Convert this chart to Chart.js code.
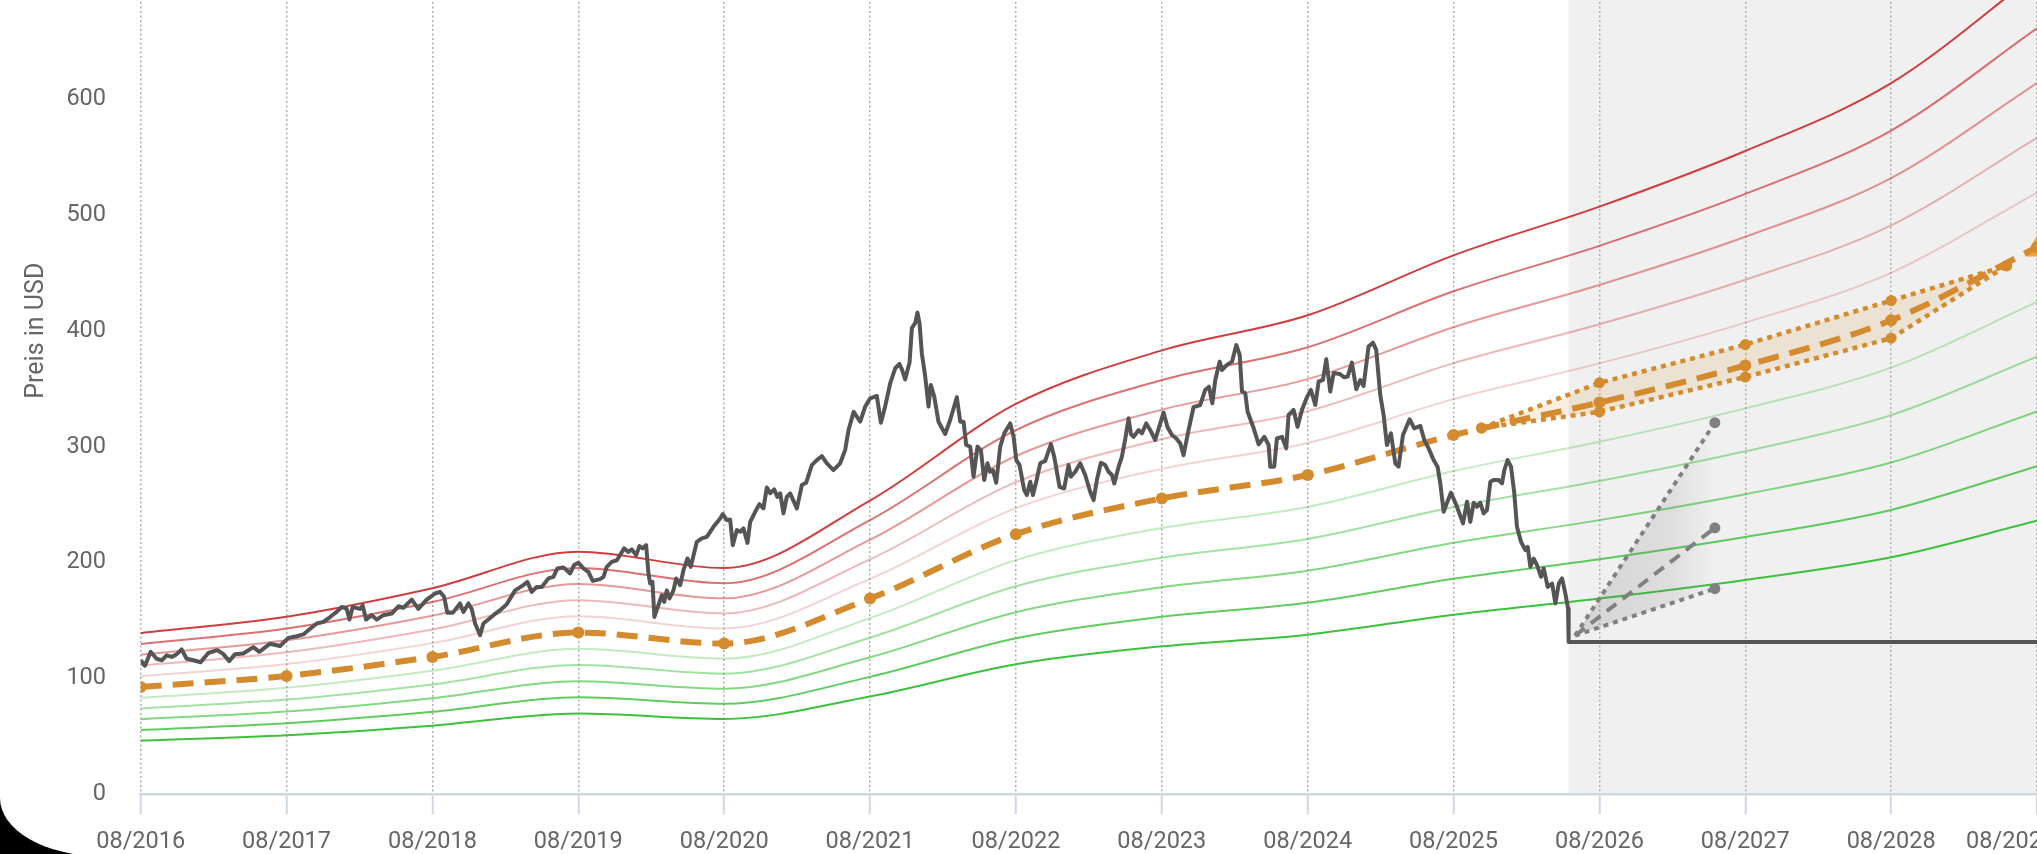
<!DOCTYPE html>
<html lang="de">
<head>
<meta charset="utf-8">
<title>Fair Value Chart</title>
<script src="https://cdn.jsdelivr.net/npm/chart.js@4.4.1/dist/chart.umd.min.js"></script>
<style>
  html, body { margin: 0; padding: 0; background: #000; overflow: hidden; }
  #frame { position: relative; width: 2037px; height: 856px; background: #fff; overflow: hidden; border-bottom-left-radius: 100px 58px; }
  #chartBox { position: absolute; left: 0; top: -133px; width: 2037px; height: 989px; }
</style>
</head>
<body>
<div id="frame"><div id="chartBox"><canvas id="valuationChart"></canvas></div></div>
<script>
// x values are months since 08/2016
const tickLabels = ["08/2016", "08/2017", "08/2018", "08/2019", "08/2020", "08/2021", "08/2022",
  "08/2023", "08/2024", "08/2025", "08/2026", "08/2027", "08/2028", "08/2029"];

const fairValueMonths = [0, 12, 24, 36, 48, 60, 72, 84, 96, 108, 120, 132, 144, 156];
const fairValue = [92.7, 102.2, 118.6, 139.6, 130.1, 169, 224.5, 255.3, 275.5, 310, 338, 370, 409, 472];

// valuation bands around the fair value
const bandPlus50 = [139.1, 153.3, 177.9, 209.4, 195.2, 253.5, 336.8, 383.0, 413.3, 465, 507, 555, 613.5, 708];
const bandPlus40 = [129.8, 143.1, 166.0, 195.4, 182.1, 236.6, 314.3, 357.4, 385.7, 434, 473.2, 518, 572.6, 660.8];
const bandPlus30 = [120.5, 132.9, 154.2, 181.5, 169.1, 219.7, 291.9, 331.9, 358.2, 403, 439.4, 481, 531.7, 613.6];
const bandPlus20 = [111.2, 122.6, 142.3, 167.5, 156.1, 202.8, 269.4, 306.4, 330.6, 372, 405.6, 444, 490.8, 566.4];
const bandPlus10 = [102.0, 112.4, 130.5, 153.6, 143.1, 185.9, 247.0, 280.8, 303.1, 341, 371.8, 407, 449.9, 519.2];
const bandMinus10 = [83.4, 92.0, 106.7, 125.6, 117.1, 152.1, 202.1, 229.8, 248.0, 279, 304.2, 333, 368.1, 424.8];
const bandMinus20 = [74.2, 81.8, 94.9, 111.7, 104.1, 135.2, 179.6, 204.2, 220.4, 248, 270.4, 296, 327.2, 377.6];
const bandMinus30 = [64.9, 71.5, 83.0, 97.7, 91.1, 118.3, 157.2, 178.7, 192.9, 217, 236.6, 259, 286.3, 330.4];
const bandMinus40 = [55.6, 61.3, 71.2, 83.8, 78.1, 101.4, 134.7, 153.2, 165.3, 186, 202.8, 222, 245.4, 283.2];
const bandMinus50 = [46.4, 51.1, 59.3, 69.8, 65.1, 84.5, 112.3, 127.7, 137.8, 155, 169, 185, 204.5, 236];

const priceMonths = [
  0, 0.35, 0.82, 1.31, 1.73, 2.14, 2.55, 2.96, 3.37, 3.78, 4.33, 4.93, 5.56, 6.31, 6.8, 7.29, 7.76, 8.44, 9.27, 9.76,
  10.64, 11.46, 12.15, 12.83, 13.38, 13.79, 14.48, 15.03, 15.58, 16.12, 16.54, 16.95, 17.17, 17.44, 18.04, 18.26, 18.54, 19, 19.42, 19.96,
  20.65, 21.2, 21.61, 22.3, 22.84, 23.53, 24.22, 24.63, 24.96, 25.23, 25.67, 26.27, 26.55, 26.96, 27.23, 27.51, 27.92, 28.19, 29.02, 29.57,
  30.11, 30.8, 31.48, 31.81, 32.17, 32.58, 32.99, 33.54, 33.95, 34.28, 34.78, 35.05, 35.33, 35.65, 36.01, 36.42, 36.83, 37.19, 37.79, 38.07,
  38.34, 38.75, 39.17, 39.77, 40.12, 40.4, 40.76, 41.03, 41.3, 41.58, 41.77, 41.91, 42.1, 42.26, 42.59, 42.87, 43.06, 43.28, 43.5, 43.83,
  44.05, 44.38, 44.65, 44.98, 45.25, 45.75, 46.16, 46.57, 47.12, 47.67, 47.89, 48.22, 48.49, 48.71, 49.04, 49.31, 49.59, 49.92, 50.14, 50.55,
  50.9, 51.23, 51.51, 51.78, 52.11, 52.38, 52.61, 52.88, 53.15, 53.43, 53.98, 54.39, 54.74, 55.21, 55.62, 56.04, 56.45, 56.99, 57.54, 57.95,
  58.23, 58.65, 59.19, 59.6, 60.01, 60.56, 60.89, 61.24, 61.66, 62.07, 62.42, 62.62, 62.89, 63.25, 63.44, 63.71, 63.9, 64.07, 64.26, 64.54,
  64.81, 65, 65.28, 65.63, 66.18, 66.59, 67.14, 67.42, 67.69, 67.91, 68.24, 68.51, 68.84, 69.12, 69.39, 69.66, 69.88, 70.1, 70.38, 70.71,
  71.04, 71.53, 71.81, 72.03, 72.3, 72.68, 72.9, 73.18, 73.4, 73.67, 74, 74.41, 74.88, 75.15, 75.59, 75.97, 76.33, 76.52, 76.88, 77.29,
  77.7, 78.11, 78.39, 78.66, 78.99, 79.35, 79.62, 79.9, 80.09, 80.45, 80.72, 81, 81.27, 81.46, 81.68, 82.1, 82.37, 82.72, 83.05, 83.46,
  83.87, 84.15, 84.48, 84.84, 85.19, 85.52, 85.79, 86.2, 86.61, 87.16, 87.57, 87.88, 88.16, 88.4, 88.76, 88.95, 89.36, 89.78, 90.13, 90.41,
  90.6, 90.87, 91.06, 91.56, 91.97, 92.43, 92.79, 92.92, 93.25, 93.47, 93.89, 94.24, 94.43, 94.84, 95.17, 95.53, 95.94, 96.27, 96.63, 96.9,
  97.26, 97.53, 97.86, 98.14, 98.63, 99.01, 99.29, 99.64, 100, 100.33, 100.6, 101.01, 101.37, 101.64, 101.97, 102.25, 102.52, 102.85, 103.21, 103.48,
  103.84, 104.39, 104.77, 105.27, 105.6, 105.95, 106.36, 106.69, 106.91, 107.19, 107.46, 107.79, 108.23, 108.78, 109.11, 109.38, 109.66, 109.93, 110.2, 110.48,
  110.75, 111.03, 111.3, 111.71, 111.99, 112.18, 112.45, 112.73, 113, 113.22, 113.55, 113.91, 114.1, 114.32, 114.59, 114.87, 115.2, 115.42, 115.75, 116.11,
  116.38, 116.66, 116.93, 117.2, 117.42, 117.47
];
const priceValues = [
  115.7, 111, 123, 117, 115.7, 120, 118.6, 121, 125, 117, 115.7, 114, 122, 124.4, 121, 115, 121, 121.5, 127, 123,
  130, 128, 135, 136.4, 138, 141.6, 147.4, 148.8, 153, 157.4, 161.7, 160, 150.8, 161.7, 160, 163, 150.8, 154.6, 150.8, 154.6,
  156, 162.3, 161, 168, 160, 168, 173.3, 174.7, 170.4, 156.6, 156.6, 164.7, 157.4, 164.7, 160, 147.4, 137.3, 147.4, 154.6, 158.9,
  164, 176, 180.5, 183.3, 174.7, 179, 179, 186.3, 187.7, 194.9, 195.8, 193.4, 190.6, 197.8, 199.8, 195, 192, 184.2, 185.7, 187.7,
  196.3, 200.6, 202, 212.2, 209.2, 211.3, 206.4, 214.2, 212.2, 215, 190.6, 182, 183.3, 153.1, 163.2, 171.8, 166, 176, 169, 176,
  186.3, 180.5, 193.4, 203.5, 196.3, 217.9, 220.8, 222.2, 230.8, 238, 241.8, 236.6, 237.2, 215, 228, 226.5, 229.4, 217, 235.1, 243.8,
  250.4, 246.7, 264.8, 259.7, 263.1, 256.7, 259.7, 242.4, 256.7, 259.7, 246.7, 266.8, 268.8, 284.1, 288.4, 291.9, 285.6, 279.8, 285.6, 297,
  314.3, 330, 321.5, 334.5, 341.7, 343.7, 320.6, 334.5, 354.7, 367.6, 371.3, 366.7, 358.1, 372.5, 402.2, 406.5, 415.6, 406.5, 380.6, 360.4,
  334.5, 353.2, 343.1, 321.5, 310.9, 323, 342.6, 321.5, 321.5, 301.4, 300, 274.1, 300, 297, 271.2, 285.6, 278.3, 279.8, 268.8, 300,
  311.5, 320, 308.5, 288.4, 284.1, 262.5, 258.2, 269.7, 258.2, 269.7, 285.6, 287.7, 302.2, 291.3, 265.2, 263.9, 284.1, 274.1, 278.3, 285.6,
  275.5, 261.1, 253.9, 271.2, 286.1, 284.1, 278.3, 275.5, 268.3, 282.7, 291.3, 307, 324.4, 310.9, 308.5, 314.3, 311.5, 320, 314.3, 305.7,
  320, 329.3, 316.5, 310, 307, 302.8, 292.7, 314.3, 334, 335.9, 348.9, 351.7, 337.4, 357.5, 373.3, 366.1, 370.5, 373.3, 387.7, 379.1,
  347.5, 346, 330.1, 315.8, 302, 308.5, 301.4, 282.7, 282.7, 307, 308.5, 298.5, 327.3, 331.6, 317.2, 331.6, 342.6, 348.9, 335.9, 356,
  357.5, 375.4, 347.5, 363.5, 362.7, 359.8, 360.4, 372.5, 349.5, 357.5, 352.3, 386.3, 389.7, 383.4, 344.6, 327.3, 301.4, 311.5, 285.6, 282.7,
  310, 323.6, 315.8, 317.8, 305.7, 298.5, 288.4, 282.7, 268.3, 243.8, 251.6, 260.2, 249.6, 233.8, 252.5, 235.1, 251.6, 248.1, 251.6, 242.4,
  245.3, 269.7, 271.2, 271.2, 268.3, 279.8, 288.4, 282.7, 259.7, 230.8, 217.9, 210.7, 213.6, 196.3, 203.5, 197.8, 187.7, 194.9, 179, 181.9,
  164.7, 181.9, 186.3, 173.3, 160.4, 131.5
];

// current price carried forward
const lastPriceMonths = [117.47, 156];
const lastPriceValues = [131.5, 131.5];

// analyst range for the fair value
const forecastMonths = [110.3, 120, 132, 144, 153.5];
const forecastHigh = [316, 355, 388, 426, 456];
const forecastLow = [316, 330, 360, 393.5, 456];

const targetMonths = [156];
const targetValues = [470];

// one year price projection
const fanMonths = [118, 129.5];
const fanHigh = [137, 320.7];
const fanMid = [137, 230];
const fanLow = [137, 177.5];

const shadeStartMonth = 117.47;

const orange = "#d38b2d";
const toPoints = (xs, ys) => xs.map((x, i) => ({ x: x, y: ys[i] }));

const bands = [
  { data: bandPlus50, color: "rgba(204,52,52,0.95)" },
  { data: bandPlus40, color: "rgba(204,52,52,0.7)" },
  { data: bandPlus30, color: "rgba(204,52,52,0.5)" },
  { data: bandPlus20, color: "rgba(204,52,52,0.35)" },
  { data: bandPlus10, color: "rgba(204,52,52,0.22)" },
  { data: bandMinus10, color: "rgba(50,190,50,0.3)" },
  { data: bandMinus20, color: "rgba(50,190,50,0.45)" },
  { data: bandMinus30, color: "rgba(50,190,50,0.6)" },
  { data: bandMinus40, color: "rgba(50,190,50,0.78)" },
  { data: bandMinus50, color: "rgba(50,190,50,0.95)" }
];

const forecastShade = {
  id: "forecastShade",
  beforeDraw(chart) {
    const { ctx, chartArea, scales } = chart;
    const left = scales.x.getPixelForValue(shadeStartMonth);
    ctx.save();
    ctx.fillStyle = "#f0f0f0";
    ctx.fillRect(left, chartArea.top, chartArea.right - left, chartArea.bottom - chartArea.top);
    ctx.restore();
  }
};

function fanGradient(context) {
  const chart = context.chart;
  if (!chart.chartArea) return "rgba(120,120,120,0.15)";
  const x = chart.scales.x;
  const g = chart.ctx.createLinearGradient(x.getPixelForValue(fanMonths[0]), 0, x.getPixelForValue(fanMonths[1]), 0);
  g.addColorStop(0, "rgba(120,120,120,0.24)");
  g.addColorStop(0.7, "rgba(120,120,120,0.15)");
  g.addColorStop(1, "rgba(120,120,120,0)");
  return g;
}

const datasets = [];

datasets.push({
  label: "Kurs",
  data: toPoints(priceMonths, priceValues),
  borderColor: "#555555",
  borderWidth: 4,
  borderJoinStyle: "round",
  pointRadius: 0,
  tension: 0,
  order: 1
});
datasets.push({
  label: "Aktueller Kurs",
  data: toPoints(lastPriceMonths, lastPriceValues),
  borderColor: "#555555",
  borderWidth: 4,
  pointRadius: 0,
  order: 1
});
datasets.push({
  label: "Fairer Wert",
  data: toPoints(fairValueMonths, fairValue),
  borderColor: orange,
  backgroundColor: orange,
  borderWidth: 6,
  borderDash: [21, 11],
  pointRadius: 6,
  pointBorderWidth: 0,
  cubicInterpolationMode: "monotone",
  order: 2
});
datasets.push({
  label: "Prognose hoch",
  data: toPoints(forecastMonths, forecastHigh),
  borderColor: orange,
  backgroundColor: orange,
  borderWidth: 4.5,
  borderDash: [5, 5],
  pointRadius: 5.5,
  pointBorderWidth: 0,
  fill: false,
  order: 3
});
datasets.push({
  label: "Prognose niedrig",
  data: toPoints(forecastMonths, forecastLow),
  borderColor: orange,
  backgroundColor: "rgba(211,139,45,0.14)",
  pointBackgroundColor: orange,
  borderWidth: 4.5,
  borderDash: [5, 5],
  pointRadius: 5.5,
  pointBorderWidth: 0,
  fill: "-1",
  order: 3
});
datasets.push({
  label: "Kursziel",
  data: toPoints(targetMonths, targetValues),
  showLine: false,
  pointStyle: "triangle",
  pointRadius: 13,
  backgroundColor: "#f5a142",
  borderColor: "#f5a142",
  order: 2
});
datasets.push({
  label: "Projektion hoch",
  data: toPoints(fanMonths, fanHigh),
  borderColor: "#808080",
  backgroundColor: "#808080",
  borderWidth: 4,
  borderDash: [5, 5],
  pointRadius: [0, 5.5],
  pointBorderWidth: 0,
  fill: false,
  order: 4
});
datasets.push({
  label: "Projektion",
  data: toPoints(fanMonths, fanMid),
  borderColor: "#808080",
  backgroundColor: "#808080",
  borderWidth: 4,
  borderDash: [12, 8],
  pointRadius: [0, 5.5],
  pointBorderWidth: 0,
  fill: false,
  order: 4
});
datasets.push({
  label: "Projektion niedrig",
  data: toPoints(fanMonths, fanLow),
  borderColor: "#808080",
  backgroundColor: fanGradient,
  pointBackgroundColor: "#808080",
  borderWidth: 4,
  borderDash: [5, 5],
  pointRadius: [0, 5.5],
  pointBorderWidth: 0,
  fill: "-2",
  order: 4
});

bands.forEach(band => {
  datasets.push({
    data: toPoints(fairValueMonths, band.data),
    borderColor: band.color,
    borderWidth: 2,
    pointRadius: 0,
    fill: false,
    cubicInterpolationMode: "monotone",
    order: 10
  });
});

Chart.defaults.font.family = "Roboto, 'Noto Sans', sans-serif";

// last label sits a bit left of its tick, like in the app
function xTickLabel(value) {
  const i = Math.round(value / 12);
  if (i === tickLabels.length - 1) return tickLabels[i] + "\u2007\u2007\u2007\u2007";
  return tickLabels[i];
}

const ctx = document.getElementById("valuationChart").getContext("2d");

new Chart(ctx, {
  type: "line",
  data: { datasets },
  plugins: [forecastShade],
  options: {
    responsive: true,
    maintainAspectRatio: false,
    animation: false,
    events: [],
    layout: { autoPadding: false, padding: 0 },
    plugins: {
      legend: { display: false },
      tooltip: { enabled: false }
    },
    scales: {
      x: {
        type: "linear",
        min: 0,
        max: 156,
        grid: {
          color: "#b0b0b0",
          lineWidth: 1.5,
          tickLength: 20,
          tickColor: "#cdd8e3",
          tickWidth: 2,
          tickBorderDash: []
        },
        border: { display: true, color: "#cdd8e3", width: 2.5, dash: [2, 2.5] },
        ticks: {
          stepSize: 12,
          autoSkip: false,
          maxRotation: 0,
          padding: 14,
          color: "#666",
          font: { size: 23.5 },
          callback: xTickLabel
        },
        afterFit: scale => {
          scale.height = 61.6;
          scale.paddingLeft = 0;
          scale.paddingRight = 0;
        }
      },
      y: {
        min: 0,
        max: 800,
        grid: { display: false, drawTicks: false },
        border: { display: false },
        ticks: {
          stepSize: 100,
          includeBounds: false,
          padding: 34.7,
          color: "#666",
          font: { size: 23.5 },
          callback: value => (value <= 600 ? value : "")
        },
        title: {
          display: true,
          text: "Preis in USD",
          color: "#666",
          font: { size: 25 },
          padding: { top: 22, bottom: 0 }
        },
        afterFit: scale => {
          scale.width = 140.7;
          scale.paddingTop = 0;
          scale.paddingBottom = 0;
        }
      }
    }
  }
});
</script>
</body>
</html>
